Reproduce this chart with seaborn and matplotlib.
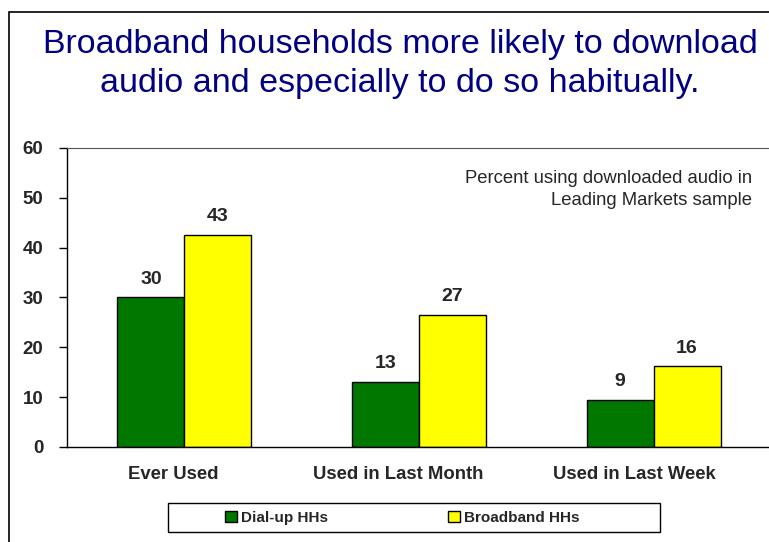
import pandas as pd
import matplotlib.pyplot as plt
import matplotlib.transforms as mtransforms
import seaborn as sns
from matplotlib.patches import Rectangle

# values
categories = ['Ever Used', 'Used in Last Month', 'Used in Last Week']
dialup = [30.0, 13.1, 9.4]
broadband = [42.5, 26.5, 16.2]
dialup_labels = ['30', '13', '9']
broadband_labels = ['43', '27', '16']
series = ['Dial-up HHs', 'Broadband HHs']
yticks = [0, 10, 20, 30, 40, 50, 60]

df = pd.DataFrame({
    'cat': categories * 2,
    'value': dialup + broadband,
    'group': [series[0]] * 3 + [series[1]] * 3,
})

sns.set_style('white')
plt.rcParams['font.family'] = ['Liberation Sans', 'DejaVu Sans']

fig = plt.figure(figsize=(7.69, 5.42), dpi=100)
ax = fig.add_axes([0.0871, 0.1753, 0.9155, 0.5517])

sns.barplot(data=df, x='cat', y='value', hue='group', ax=ax,
            palette=['#007800', '#ffff00'], edgecolor='black', linewidth=1,
            width=0.57, saturation=1)

# value labels over the bars
ax.bar_label(ax.containers[0], labels=dialup_labels, padding=7,
             fontsize=14, fontweight='bold')
ax.bar_label(ax.containers[1], labels=broadband_labels, padding=7,
             fontsize=14, fontweight='bold')

ax.set_xlim(-0.5, 2.5)
ax.set_ylim(0, 60)
ax.set_yticks(yticks)
ax.set_yticklabels([str(t) for t in yticks], fontsize=13.5, fontweight='bold')
ax.set_xticks(range(3))
ax.set_xticklabels(categories, fontsize=13.3, fontweight='bold')
ax.set_xticks([0.5, 1.5], minor=True)
ax.tick_params(axis='x', which='major', length=0, pad=14)
ax.tick_params(axis='x', which='minor', length=6, width=1, color='black', direction='out')
ax.tick_params(axis='y', length=6, width=1, color='black', direction='out', left=True, pad=11)
ax.set_xlabel('')
ax.set_ylabel('')

# category labels sit a little left of the group centres in the original
for lab, dx in zip(ax.get_xticklabels(), [-11, -21, -19]):
    lab.set_transform(lab.get_transform() +
                      mtransforms.ScaledTranslation(dx / 100, 0, fig.dpi_scale_trans))

for s in ['left', 'bottom']:
    ax.spines[s].set_color('black')
    ax.spines[s].set_linewidth(1)
ax.spines['top'].set_color('#555555')
ax.spines['right'].set_visible(False)

ax.text(0.973, 0.925, 'Percent using downloaded audio in\nLeading Markets sample',
        transform=ax.transAxes, ha='right', va='top', multialignment='right',
        fontsize=13.3, linespacing=1.33)

# legend without its own frame, box drawn separately
ax.get_legend().remove()
handles = ax.containers[0].patches[:1] + ax.containers[1].patches[:1]
fig.legend(handles, series, loc='center', bbox_to_anchor=(0.523, 0.045),
           ncol=2, frameon=False, columnspacing=7.8, handlelength=0.8,
           handleheight=0.8, handletextpad=0.3,
           prop={'size': 11, 'weight': 'bold'})
fig.patches.append(Rectangle((168 / 769, 1 - 532 / 542), 492 / 769, 29 / 542,
                             transform=fig.transFigure, fill=False,
                             edgecolor='black', linewidth=1))

# outer frame (left and top edges visible)
fig.patches.append(Rectangle((9 / 769, -0.1), 1.2, 1.1 - 12 / 542,
                             transform=fig.transFigure, fill=False,
                             edgecolor='black', linewidth=1.2))

fig.text(0.52, 1 - 29 / 542,
         'Broadband households more likely to download\naudio and especially to do so habitually.',
         ha='center', va='top', fontsize=24.5, color='#000080', linespacing=1.32)

plt.savefig('out.png', dpi=100)
